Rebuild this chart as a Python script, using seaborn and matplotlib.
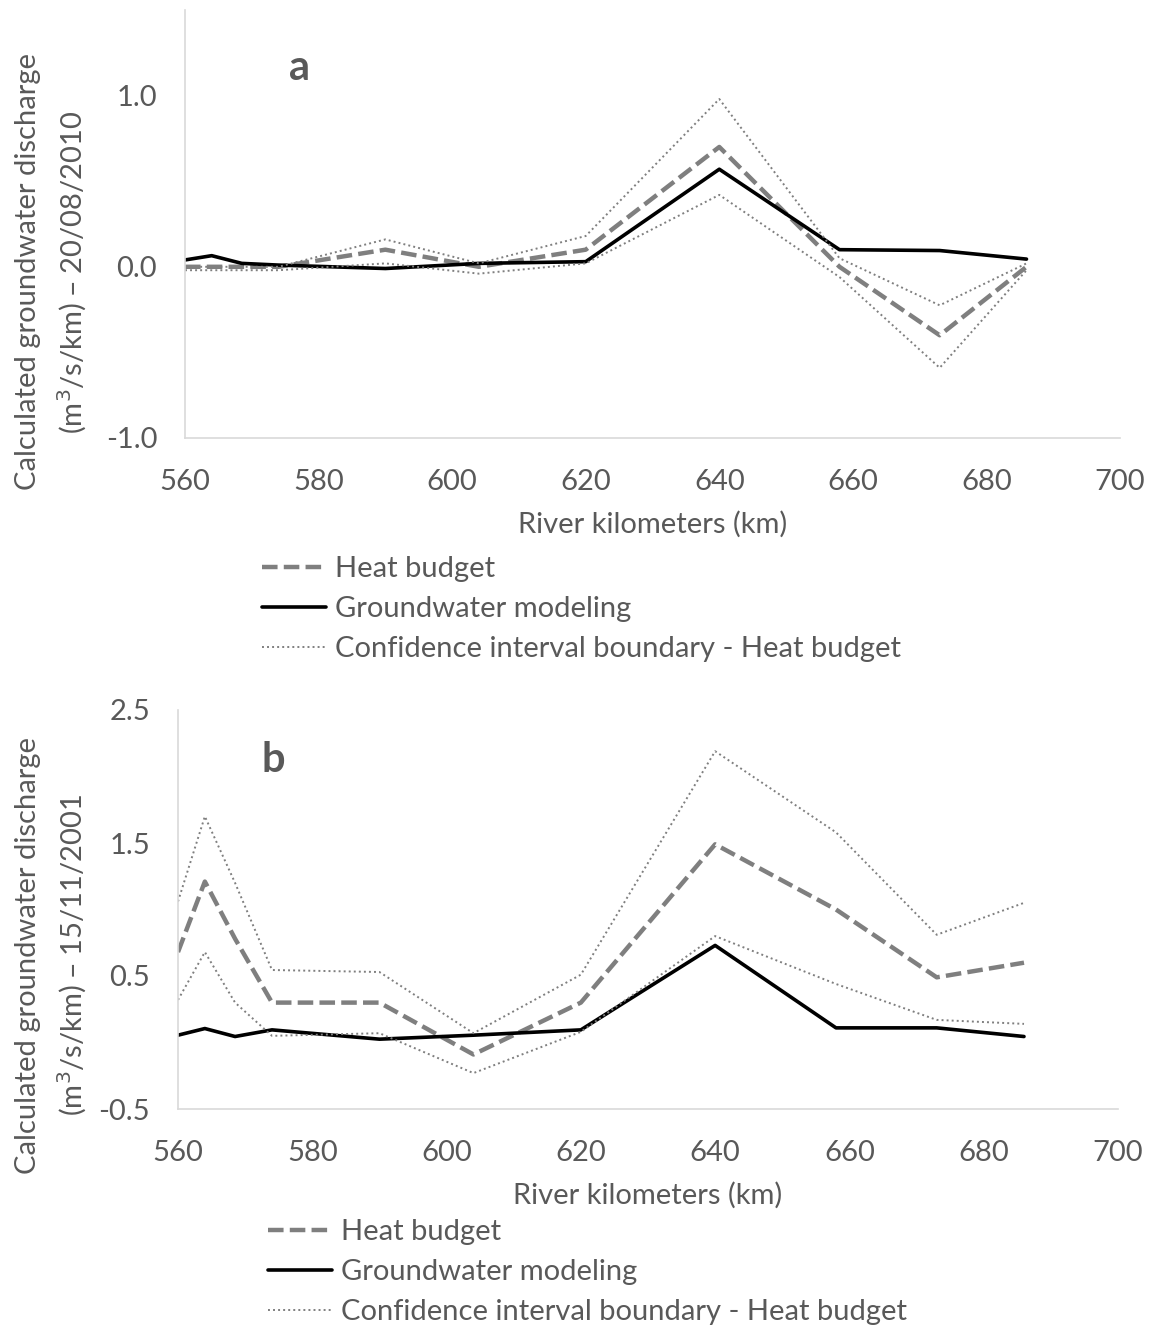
import numpy as np
import pandas as pd
import seaborn as sns
import matplotlib.pyplot as plt
from matplotlib.ticker import FormatStrFormatter

# river kilometers of the sampled reaches
km = [560, 564, 568.5, 574, 590, 604, 620, 640, 658, 673, 686]

# panel a - 20/08/2010
heat_a = [0.0, 0.0, 0.0, 0.0, 0.1, 0.0, 0.1, 0.7, 0.0, -0.40, 0.0]
gw_a = [0.04, 0.065, 0.02, 0.01, -0.01, 0.02, 0.03, 0.57, 0.10, 0.095, 0.045]
ci_up_a = [0.0, 0.0, 0.0, 0.0, 0.16, 0.02, 0.18, 0.98, 0.05, -0.225, 0.02]
ci_lo_a = [-0.02, -0.02, -0.02, -0.02, 0.02, -0.04, 0.02, 0.42, -0.06, -0.59, -0.02]

# panel b - 15/11/2001
heat_b = [0.68, 1.21, 0.78, 0.30, 0.30, -0.09, 0.30, 1.49, 1.0, 0.49, 0.60]
gw_b = [0.055, 0.105, 0.045, 0.095, 0.025, 0.055, 0.095, 0.73, 0.11, 0.11, 0.045]
ci_up_b = [1.06, 1.70, 1.20, 0.545, 0.53, 0.07, 0.51, 2.19, 1.58, 0.81, 1.05]
ci_lo_b = [0.32, 0.68, 0.30, 0.05, 0.07, -0.23, 0.08, 0.80, 0.44, 0.17, 0.14]

labels = ['Heat budget', 'Groundwater modeling', 'Confidence interval boundary - Heat budget']

sns.set_style('white')
plt.rcParams['font.family'] = ['Lato', 'DejaVu Sans']
txt = '#595959'

fig = plt.figure(figsize=(11.53, 13.33), dpi=100)
ax_a = fig.add_axes([185 / 1153, 1 - 438 / 1333, 935 / 1153, 428 / 1333])
ax_b = fig.add_axes([178 / 1153, 1 - 1109 / 1333, 940 / 1153, 399 / 1333])


def draw_panel(ax, heat, gw, up, lo):
    df = pd.DataFrame({'km': km, 'heat': heat, 'gw': gw, 'up': up, 'lo': lo})
    sns.lineplot(data=df, x='km', y='heat', ax=ax, color='#7f7f7f', lw=3.2,
                 dashes=False, linestyle=(0, (3.5, 1.4)), label=labels[0])
    sns.lineplot(data=df, x='km', y='gw', ax=ax, color='black', lw=2.6, label=labels[1])
    sns.lineplot(data=df, x='km', y='up', ax=ax, color='#7f7f7f', lw=1.4,
                 linestyle=(0, (1, 1.6)), label=labels[2])
    sns.lineplot(data=df, x='km', y='lo', ax=ax, color='#7f7f7f', lw=1.4,
                 linestyle=(0, (1, 1.6)))
    ax.set_xlim(560, 700)
    ax.set_xticks(np.arange(560, 701, 20))
    ax.set_xlabel('River kilometers (km)', fontsize=21, color=txt, labelpad=12)
    ax.set_ylabel('')
    ax.yaxis.set_major_formatter(FormatStrFormatter('%.1f'))
    ax.tick_params(axis='both', length=0, labelsize=21, labelcolor=txt)
    ax.tick_params(axis='x', pad=22)
    ax.tick_params(axis='y', pad=20)
    for s in ['top', 'right']:
        ax.spines[s].set_visible(False)
    for s in ['left', 'bottom']:
        ax.spines[s].set_color('#d9d9d9')
        ax.spines[s].set_linewidth(1.2)
    ax.grid(False)
    handles, labs = ax.get_legend_handles_labels()
    ax.get_legend().remove()
    return handles, labs


h_a, l_a = draw_panel(ax_a, heat_a, gw_a, ci_up_a, ci_lo_a)
ax_a.set_ylim(-1, 1.5)
ax_a.set_yticks([-1.0, 0.0, 1.0])
h_b, l_b = draw_panel(ax_b, heat_b, gw_b, ci_up_b, ci_lo_b)
ax_b.set_ylim(-0.5, 2.5)
ax_b.set_yticks([-0.5, 0.5, 1.5, 2.5])

fig.text(300 / 1153, 1 - 68 / 1333, 'a', fontsize=30, fontweight='bold', color=txt,
         ha='center', va='center')
fig.text(273 / 1153, 1 - 760 / 1333, 'b', fontsize=30, fontweight='bold', color=txt,
         ha='center', va='center')

fig.text(28 / 1153, 1 - 272 / 1333, 'Calculated groundwater discharge', rotation=90,
         fontsize=21, color=txt, ha='center', va='center')
fig.text(72 / 1153, 1 - 272 / 1333, '(m$^3$/s/km) \u2013 20/08/2010', rotation=90,
         fontsize=21, color=txt, ha='center', va='center')
fig.text(28 / 1153, 1 - 955 / 1333, 'Calculated groundwater discharge', rotation=90,
         fontsize=21, color=txt, ha='center', va='center')
fig.text(72 / 1153, 1 - 955 / 1333, '(m$^3$/s/km) \u2013 15/11/2001', rotation=90,
         fontsize=21, color=txt, ha='center', va='center')

leg_kw = dict(frameon=False, fontsize=21, loc='upper left', handlelength=2.2,
              handletextpad=0.3, labelspacing=0.48, borderpad=0, borderaxespad=0,
              labelcolor=txt)
fig.legend(h_a, l_a, bbox_to_anchor=(262 / 1153, 1 - 556 / 1333), **leg_kw)
fig.legend(h_b, l_b, bbox_to_anchor=(268 / 1153, 1 - 1219 / 1333), **leg_kw)

fig.savefig('out.png', dpi=100, facecolor='white')
